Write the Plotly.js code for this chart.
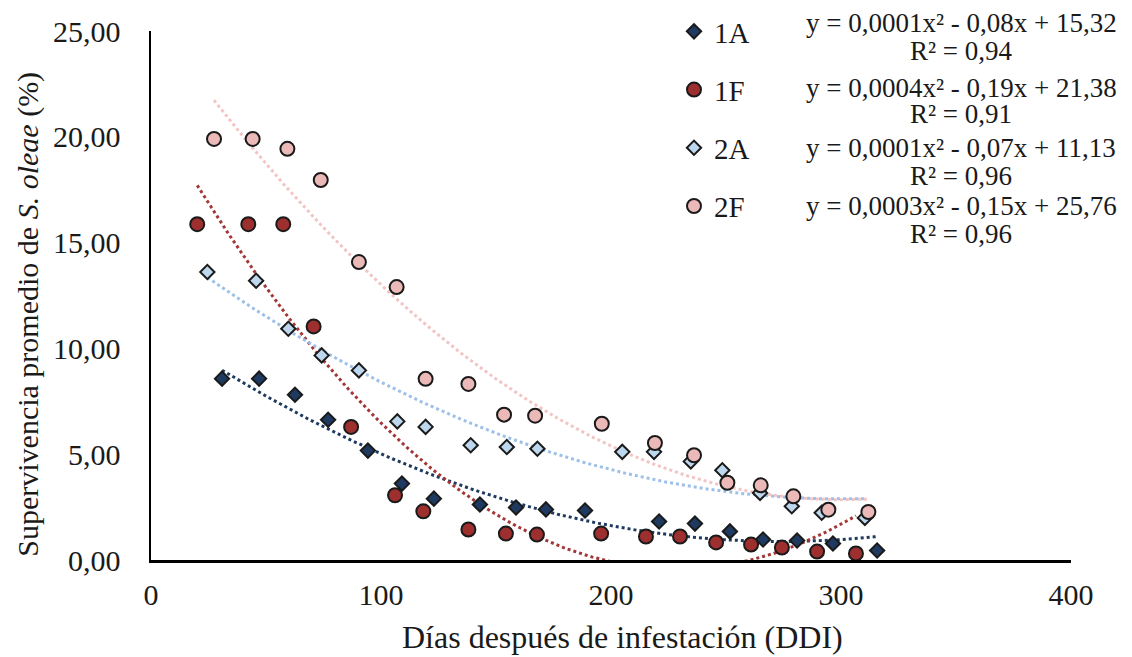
<!DOCTYPE html>
<html>
<head>
<meta charset="utf-8">
<script src="https://cdn.plot.ly/plotly-3.0.1.min.js"></script>
<style>html,body{margin:0;padding:0;background:#fff;}#chart{width:1132px;height:657px;}</style>
</head>
<body>
<div id="chart"></div>
<script>
// ---- data ----
const seriesNames = ['1A', '1F', '2A', '2F'];

const days1A = [30.9, 47.0, 62.6, 77.0, 94.3, 109.1, 123.0, 143.0, 158.7, 171.7, 188.7, 220.9, 236.5, 251.7, 266.1, 280.9, 296.5, 315.7];
const surv1A = [8.57, 8.57, 7.81, 6.63, 5.17, 3.61, 2.90, 2.62, 2.48, 2.39, 2.34, 1.82, 1.72, 1.35, 0.97, 0.92, 0.78, 0.45];

const days1F = [20.1, 42.3, 57.5, 70.7, 87.0, 106.1, 118.4, 138.0, 154.3, 167.8, 195.7, 215.2, 230.0, 245.7, 260.9, 274.3, 289.6, 306.5];
const surv1F = [15.87, 15.87, 15.87, 11.04, 6.29, 3.06, 2.30, 1.44, 1.25, 1.20, 1.25, 1.11, 1.11, 0.83, 0.73, 0.59, 0.40, 0.31];

const days2A = [24.5, 45.7, 59.7, 74.2, 90.4, 107.1, 119.4, 139.0, 154.7, 168.0, 204.9, 218.7, 234.7, 248.4, 264.8, 278.6, 291.6, 310.4];
const surv2A = [13.61, 13.20, 10.93, 9.67, 8.96, 6.55, 6.29, 5.42, 5.34, 5.26, 5.11, 5.11, 4.66, 4.24, 3.17, 2.54, 2.23, 1.99];

const days2F = [27.4, 44.2, 59.3, 73.8, 90.4, 106.8, 119.4, 138.0, 153.5, 167.0, 196.0, 219.1, 236.1, 250.6, 265.1, 279.3, 294.5, 311.9];
const surv2F = [19.90, 19.90, 19.43, 17.96, 14.08, 12.90, 8.56, 8.32, 6.87, 6.82, 6.44, 5.53, 4.95, 3.65, 3.53, 3.01, 2.38, 2.27];

const eqTexts = ['y = 0,0001x² - 0,08x + 15,32', 'y = 0,0004x² - 0,19x + 21,38', 'y = 0,0001x² - 0,07x + 11,13', 'y = 0,0003x² - 0,15x + 25,76'];
const r2Texts = ['R² = 0,94', 'R² = 0,91', 'R² = 0,96', 'R² = 0,96'];

const yTickVals = [0, 5, 10, 15, 20, 25];
const yTickText = ['0,00', '5,00', '10,00', '15,00', '20,00', '25,00'];
const xTickVals = [0, 100, 200, 300, 400];

// ---- styles ----
const FONT = 'Liberation Serif, Times New Roman, serif';
const TXT = '#1a1a1a';
const markerFill = ['#1f3a60', '#9e2f2f', '#bdd7ee', '#ecb9b9'];
const trendColor = ['#1f3a60', '#a33636', '#9dc0e8', '#f2c4c4'];
const symbols = ['diamond', 'circle', 'diamond', 'circle'];
const sizes = [11, 14, 11, 14];

// least-squares quadratic fit (Excel polynomial trendline, order 2)
function quadFit(x, y) {
  let S = [0,0,0,0,0], T = [0,0,0];
  for (let i = 0; i < x.length; i++) {
    let p = 1;
    for (let k = 0; k < 5; k++) { S[k] += p; if (k < 3) T[k] += p * y[i]; p *= x[i]; }
  }
  const A = [[S[0],S[1],S[2],T[0]],[S[1],S[2],S[3],T[1]],[S[2],S[3],S[4],T[2]]];
  for (let c = 0; c < 3; c++) {
    let piv = c;
    for (let r = c+1; r < 3; r++) if (Math.abs(A[r][c]) > Math.abs(A[piv][c])) piv = r;
    [A[c], A[piv]] = [A[piv], A[c]];
    for (let r = 0; r < 3; r++) if (r !== c) {
      const f = A[r][c] / A[c][c];
      for (let k = c; k < 4; k++) A[r][k] -= f * A[c][k];
    }
  }
  return [A[0][3]/A[0][0], A[1][3]/A[1][1], A[2][3]/A[2][2]];
}

const allX = [days1A, days1F, days2A, days2F];
const allY = [surv1A, surv1F, surv2A, surv2F];

const traces = [];
for (let s = 0; s < 4; s++) {
  const c = quadFit(allX[s], allY[s]);
  const x0 = Math.min(...allX[s]), x1 = Math.max(...allX[s]);
  const tx = [], ty = [];
  for (let i = 0; i <= 200; i++) {
    const xv = x0 + (x1 - x0) * i / 200;
    tx.push(xv); ty.push(c[0] + c[1]*xv + c[2]*xv*xv);
  }
  traces.push({x: tx, y: ty, type: 'scatter', mode: 'lines', showlegend: false, hoverinfo: 'skip',
    line: {color: trendColor[s], width: 3, dash: '3px,3px'}});
}
for (let s = 0; s < 4; s++) {
  traces.push({x: allX[s], y: allY[s], type: 'scatter', mode: 'markers', name: seriesNames[s],
    legendgroup: 'g' + s,
    marker: {symbol: symbols[s], size: sizes[s], color: markerFill[s], line: {color: '#1a1a1a', width: 2}}});
}

const annotations = [];
const eqY = [23, 88, 148, 206];
const r2Y = [51, 114, 176, 234];
const L = 151, R = 1071, T = 31, B = 560.5;
const px2x = p => (p - L) / (R - L);
const py2y = p => (B - p) / (B - T);
for (let s = 0; s < 4; s++) {
  annotations.push({xref: 'paper', yref: 'paper', x: px2x(961), y: py2y(eqY[s]), xanchor: 'center', yanchor: 'middle',
    text: eqTexts[s], showarrow: false, font: {family: FONT, size: 27, color: TXT}});
  annotations.push({xref: 'paper', yref: 'paper', x: px2x(961), y: py2y(r2Y[s]), xanchor: 'center', yanchor: 'middle',
    text: r2Texts[s], showarrow: false, font: {family: FONT, size: 27, color: TXT}});
}
// axis titles
annotations.push({xref: 'paper', yref: 'paper', x: px2x(622), y: py2y(638), xanchor: 'center', yanchor: 'middle',
  text: 'Días después de infestación (DDI)', showarrow: false, font: {family: FONT, size: 32, color: TXT}});
annotations.push({xref: 'paper', yref: 'paper', x: px2x(28), y: py2y(315), xanchor: 'center', yanchor: 'middle', textangle: -90,
  text: 'Supervivencia promedio de <i>S. oleae</i> (%)', showarrow: false, font: {family: FONT, size: 30, color: TXT}});

const layout = {
  width: 1132, height: 657,
  margin: {l: L, r: 1132 - R, t: T, b: 657 - B, autoexpand: false},
  paper_bgcolor: '#fff', plot_bgcolor: '#fff',
  font: {family: FONT, color: TXT},
  xaxis: {range: [0, 400], tickvals: xTickVals, ticks: '', showgrid: false, zeroline: false,
    showline: true, linecolor: '#000', linewidth: 2.5, tickfont: {family: FONT, size: 30, color: TXT},
    ticklabelstandoff: 6, fixedrange: true, automargin: false},
  yaxis: {range: [0, 25], tickvals: yTickVals, ticktext: yTickText, ticks: '', showgrid: false, zeroline: false,
    showline: true, linecolor: '#000', linewidth: 2.5, tickfont: {family: FONT, size: 30, color: TXT},
    ticklabelstandoff: 22, fixedrange: true, automargin: false},
  showlegend: true,
  legend: {x: px2x(674), y: py2y(6), xanchor: 'left', yanchor: 'top', bgcolor: 'rgba(0,0,0,0)',
    font: {family: FONT, size: 29, color: TXT}, tracegroupgap: 17.5},
  annotations: annotations
};

Plotly.newPlot('chart', traces, layout, {displayModeBar: false, staticPlot: true});
</script>
</body>
</html>
